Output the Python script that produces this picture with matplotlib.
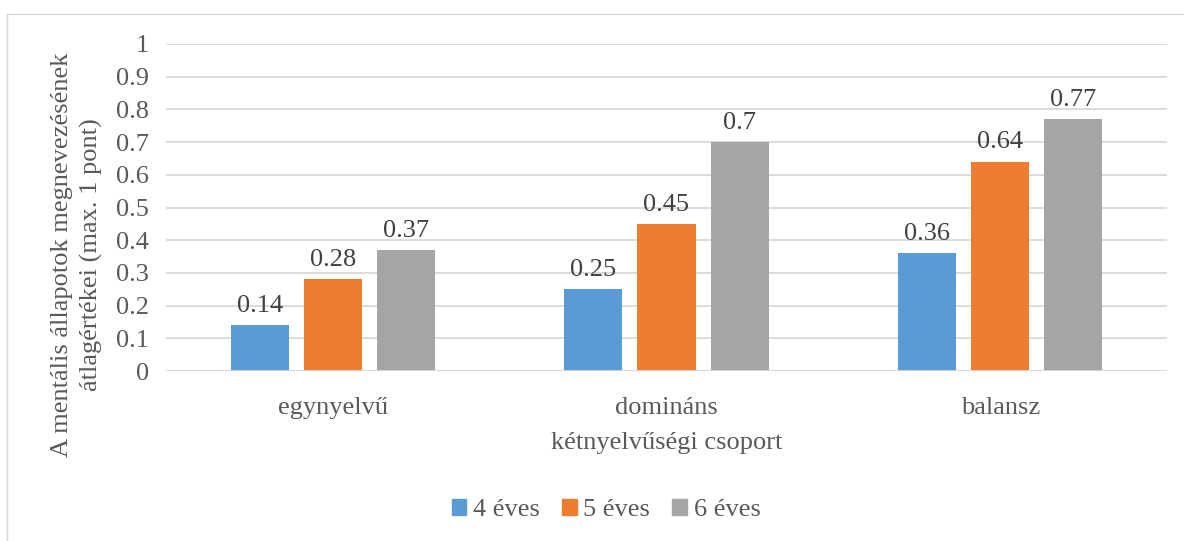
import matplotlib
matplotlib.use("Agg")
import matplotlib.pyplot as plt
from matplotlib.lines import Line2D
import numpy as np

# data
groups = ["egynyelvű", "domináns", "balansz"]
series = ["4 éves", "5 éves", "6 éves"]
age4 = [0.14, 0.25, 0.36]
age5 = [0.28, 0.45, 0.64]
age6 = [0.37, 0.70, 0.77]
yticks = [0, 0.1, 0.2, 0.3, 0.4, 0.5, 0.6, 0.7, 0.8, 0.9, 1]
ytick_labels = ["0", "0.1", "0.2", "0.3", "0.4", "0.5", "0.6", "0.7", "0.8", "0.9", "1"]

colors = ["#5B9BD5", "#ED7D31", "#A5A5A5"]
txt = "#595959"
plt.rcParams["font.family"] = ["Liberation Serif", "DejaVu Serif"]
fs = 19

fig = plt.figure(figsize=(11.84, 5.41), dpi=100)
ax = fig.add_axes([166 / 1184, 1 - 371 / 541, (1167 - 166) / 1184, (371 - 44) / 541])

x = np.arange(len(groups))
w = 0.174
step = 0.219
for i, (vals, name) in enumerate(zip([age4, age5, age6], series)):
    pos = x + (i - 1) * step
    bars = ax.bar(pos, vals, width=w, color=colors[i], label=name, zorder=3)
    for b, v in zip(bars, vals):
        ax.annotate("%g" % v, (b.get_x() + b.get_width() / 2, v),
                    xytext=(0, 6), textcoords="offset points",
                    ha="center", va="bottom", fontsize=fs, color="#404040")

ax.set_xlim(-0.5, 2.5)
ax.set_ylim(0, 1)
ax.set_yticks(yticks)
ax.set_yticklabels(ytick_labels)
ax.set_xticks(x)
ax.set_xticklabels(groups)
ax.tick_params(axis="both", length=0, labelsize=fs, colors=txt)
ax.tick_params(axis="y", pad=12)
ax.tick_params(axis="x", pad=19)
ax.yaxis.grid(True, color="#D9D9D9", linewidth=1.3, zorder=0)
for s in ax.spines.values():
    s.set_visible(False)
ax.axhline(0, color="#D9D9D9", linewidth=1.3, zorder=4)

ax.set_xlabel("kétnyelvűségi csoport", fontsize=fs, color=txt, labelpad=9)
fig.text(77 / 1184, 1 - 255 / 541,
         "A mentális állapotok megnevezésének\nátlagértékei (max. 1 pont)",
         rotation=90, ha="center", va="center", fontsize=fs, color=txt,
         linespacing=1.4)

handles = [plt.Rectangle((0, 0), 1, 1, color=c) for c in colors]
fig.legend(handles, series, loc="center", bbox_to_anchor=(606 / 1184, 1 - 510 / 541),
           ncol=3, frameon=False, fontsize=fs, labelcolor=txt,
           handlelength=0.55, handleheight=0.55, handletextpad=0.25, columnspacing=0.85)

# chart area border (top and left edges visible)
fig.add_artist(Line2D([7 / 1184, 7 / 1184], [0, 1 - 14 / 541], transform=fig.transFigure,
                      color="#D9D9D9", linewidth=1))
fig.add_artist(Line2D([7 / 1184, 1], [1 - 14 / 541, 1 - 14 / 541], transform=fig.transFigure,
                      color="#D9D9D9", linewidth=1))

fig.savefig("out.png", dpi=100)
